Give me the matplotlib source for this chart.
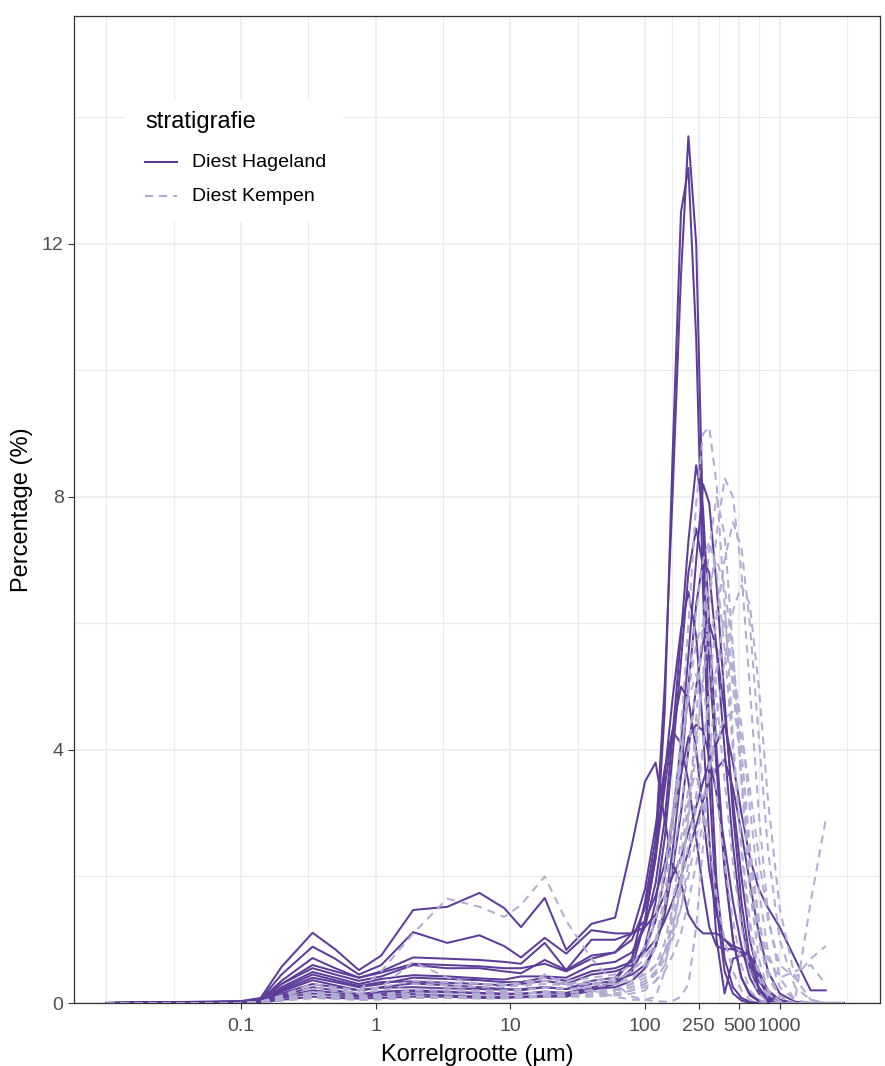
import numpy as np
import matplotlib
matplotlib.use('Agg')
import matplotlib.pyplot as plt
from matplotlib.ticker import FixedLocator, NullFormatter
from matplotlib.patches import Rectangle

nan = np.nan

# grain size classes (µm)
size = [0.01, 0.1, 0.14, 0.2, 0.34, 0.5, 0.75, 1.1, 1.9, 3.4, 5.9, 9, 12, 18, 26, 40, 60, 80,
        100, 120, 140, 160, 185, 210, 240, 270, 300, 340, 390, 450, 520, 600, 700, 820,
        1000, 1300, 1700, 2200, 3000]

# Diest Hageland samples (%)
hageland = [
    [0, 0.03, 0.08, 0.57, 1.11, 0.85, 0.52, 0.75, 1.47, 1.52, 1.74, 1.5, 1.2, 1.66, 0.84, 1.25, 1.35, 2.5,
     3.5, 3.8, 2.9, 2.2, 1.9, 1.4, 1.2, 1.1, 1.1, 1.1, 1.0, 0.85, 0.8, 0.6, 0.35, 0.15, 0.03, 0, 0, 0, 0],
    [0, 0.02, 0.06, 0.45, 0.89, 0.7, 0.45, 0.6, 1.12, 0.95, 1.07, 0.9, 0.72, 1.03, 0.78, 1.15, 1.1, 1.1,
     1.2, 1.4, 1.7, 2.0, 2.3, 2.7, 3.1, 3.5, 3.8, 4.1, 4.4, 3.8, 3.0, 2.3, 1.8, 1.5, 1.2, 0.7, 0.2, 0.2, nan],
    [0, 0.02, 0.05, 0.35, 0.71, 0.55, 0.4, 0.5, 0.72, 0.7, 0.68, 0.65, 0.62, 0.95, 0.52, 1.0, 1.0, 1.1,
     1.3, 1.7, 2.2, 2.9, 3.6, 4.2, 4.4, 4.3, 3.9, 3.3, 2.5, 1.6, 0.9, 0.4, 0.15, 0.03, 0, 0, 0, 0, 0],
    [0, 0.02, 0.05, 0.3, 0.55, 0.45, 0.35, 0.42, 0.6, 0.55, 0.55, 0.5, 0.47, 0.68, 0.52, 0.75, 0.8, 1.0,
     1.5, 2.4, 3.6, 4.8, 5.9, 6.5, 5.8, 4.3, 2.6, 1.0, 0.15, 0.7, 0.75, 0.75, 0.5, 0.1, 0, 0, 0, 0, 0],
    [0, 0.02, 0.04, 0.25, 0.49, 0.4, 0.3, 0.38, 0.44, 0.42, 0.39, 0.37, 0.42, 0.42, 0.4, 0.6, 0.65, 0.8,
     1.2, 1.9, 2.9, 4.2, 5.8, 7.3, 8.5, 7.8, 6.0, 4.0, 2.2, 1.0, 0.4, 0.15, 0.04, 0, 0, 0, 0, 0, 0],
    [0, 0.01, 0.03, 0.22, 0.45, 0.36, 0.27, 0.33, 0.34, 0.32, 0.3, 0.28, 0.3, 0.35, 0.3, 0.45, 0.5, 0.6,
     0.85, 1.3, 2.0, 2.9, 4.1, 5.5, 7.0, 8.2, 7.9, 6.6, 4.8, 3.0, 1.6, 0.7, 0.25, 0.06, 0, 0, 0, 0, 0],
    [0, 0.01, 0.03, 0.18, 0.36, 0.28, 0.2, 0.25, 0.31, 0.28, 0.25, 0.22, 0.2, 0.25, 0.22, 0.35, 0.4, 0.7,
     1.6, 2.6, 5.0, 8.0, 11.5, 13.7, 12.0, 7.5, 4.2, 1.9, 0.7, 0.25, 0.08, 0.02, 0, 0, 0, 0, 0, 0, 0],
    [0, 0.01, 0.02, 0.12, 0.25, 0.2, 0.14, 0.18, 0.2, 0.18, 0.16, 0.15, 0.14, 0.18, 0.16, 0.25, 0.3, 0.55,
     1.3, 2.3, 4.6, 8.6, 12.5, 13.2, 10.5, 6.5, 3.5, 1.5, 0.5, 0.15, 0.04, 0, 0, 0, 0, 0, 0, 0, 0],
    [0, 0, 0.01, 0.08, 0.15, 0.12, 0.1, 0.12, 0.14, 0.12, 0.1, 0.1, 0.1, 0.12, 0.12, 0.2, 0.3, 0.5,
     0.9, 1.6, 2.6, 3.9, 5.4, 6.8, 7.5, 6.9, 5.4, 3.7, 2.1, 1.0, 0.4, 0.12, 0.03, 0, 0, 0, 0, 0, 0],
    [0, 0, 0.01, 0.05, 0.1, 0.08, 0.07, 0.08, 0.1, 0.1, 0.08, 0.08, 0.09, 0.1, 0.1, 0.2, 0.35, 0.7,
     1.3, 2.3, 3.4, 4.3, 5.0, 4.8, 4.0, 3.0, 2.1, 1.4, 1.0, 0.9, 0.85, 0.7, 0.4, 0.1, 0, 0, 0, 0, 0],
    [0, 0.01, 0.03, 0.15, 0.3, 0.25, 0.2, 0.24, 0.25, 0.23, 0.22, 0.21, 0.22, 0.25, 0.22, 0.3, 0.35, 0.45,
     0.6, 0.9, 1.4, 2.1, 3.0, 4.0, 5.0, 5.7, 6.0, 5.6, 4.6, 3.2, 2.0, 1.0, 0.4, 0.1, 0, 0, 0, 0, 0],
    [0, 0.01, 0.02, 0.1, 0.2, 0.16, 0.12, 0.15, 0.18, 0.17, 0.15, 0.14, 0.15, 0.17, 0.15, 0.22, 0.25, 0.35,
     0.55, 0.9, 1.5, 2.4, 3.6, 5.0, 6.3, 7.0, 6.8, 5.6, 4.0, 2.5, 1.3, 0.55, 0.2, 0.05, 0, 0, 0, 0, 0],
    [0, 0.02, 0.05, 0.3, 0.6, 0.5, 0.4, 0.48, 0.62, 0.6, 0.58, 0.55, 0.55, 0.62, 0.5, 0.7, 0.8, 1.1,
     1.8, 2.8, 3.7, 4.3, 4.1, 3.5, 2.6, 1.8, 1.2, 0.9, 0.85, 0.85, 0.8, 0.75, 0.5, 0.2, 0.05, 0, 0, 0, 0],
    [0, 0.01, 0.03, 0.2, 0.4, 0.33, 0.25, 0.3, 0.4, 0.38, 0.36, 0.33, 0.33, 0.4, 0.35, 0.5, 0.55, 0.65,
     0.8, 1.0, 1.3, 1.6, 2.0, 2.4, 2.8, 3.2, 3.5, 3.7, 3.85, 3.4, 2.7, 1.9, 1.1, 0.5, 0.15, 0.02, 0, 0, 0],
]

# Diest Kempen samples (%)
kempen = [
    [0, 0, 0.01, 0.05, 0.1, 0.12, 0.2, 0.5, 1.1, 1.65, 1.52, 1.36, 1.55, 2.0, 1.3, 0.7, 0.3, 0.1,
     0.05, 0.03, 0.02, 0.03, 0.1, 0.3, 1.2, 2.5, 3.8, 5.2, 6.2, 5.2, 3.6, 2.1, 1.0, 0.4, 0.1, 0, 0, 0, 0],
    [0, 0, 0.01, 0.05, 0.1, 0.08, 0.06, 0.07, 0.1, 0.1, 0.1, 0.1, 0.1, 0.12, 0.12, 0.15, 0.2, 0.3,
     0.5, 0.9, 1.6, 2.7, 4.3, 6.0, 7.9, 9.0, 9.1, 8.2, 6.3, 4.2, 2.4, 1.1, 0.4, 0.1, 0, 0, 0, 0, 0],
    [0, 0, 0.01, 0.04, 0.08, 0.07, 0.05, 0.06, 0.08, 0.08, 0.08, 0.08, 0.08, 0.1, 0.1, 0.12, 0.15, 0.2,
     0.3, 0.5, 0.8, 1.3, 2.0, 2.9, 4.0, 5.2, 6.3, 7.4, 8.3, 8.0, 6.8, 5.0, 3.0, 1.4, 0.4, 0.05, 0, 0, 0],
    [0, 0, 0.01, 0.05, 0.12, 0.1, 0.08, 0.1, 0.15, 0.15, 0.14, 0.13, 0.14, 0.17, 0.16, 0.2, 0.2, 0.25,
     0.3, 0.45, 0.7, 1.0, 1.5, 2.2, 3.1, 4.0, 5.0, 6.1, 7.0, 7.6, 7.2, 6.0, 4.2, 2.4, 1.0, 0.25, 0.05, 0, 0],
    [0, 0, 0.02, 0.08, 0.18, 0.15, 0.12, 0.14, 0.2, 0.22, 0.2, 0.2, 0.22, 0.45, 0.3, 0.3, 0.3, 0.4,
     0.6, 1.0, 1.7, 2.6, 3.8, 5.0, 6.2, 7.0, 7.3, 6.8, 5.6, 4.0, 2.5, 1.3, 0.5, 0.15, 0, 0, 0, 0, 0],
    [0, 0, 0.02, 0.1, 0.25, 0.2, 0.15, 0.25, 0.65, 0.4, 0.3, 0.28, 0.3, 0.35, 0.3, 0.35, 0.4, 0.5,
     0.7, 1.0, 1.5, 2.2, 3.1, 4.0, 5.0, 5.9, 6.6, 7.0, 6.6, 5.5, 4.0, 2.5, 1.3, 0.5, 0.1, 0, 0, 0, 0],
    [0, 0, 0.01, 0.04, 0.08, 0.07, 0.06, 0.07, 0.1, 0.1, 0.1, 0.1, 0.1, 0.12, 0.12, 0.15, 0.15, 0.2,
     0.25, 0.35, 0.5, 0.75, 1.1, 1.6, 2.2, 2.9, 3.6, 4.5, 5.4, 6.2, 6.6, 6.3, 5.0, 3.2, 1.5, 0.4, 0.05, 0, 0],
    [0, 0, 0.02, 0.1, 0.3, 0.22, 0.15, 0.2, 0.3, 0.28, 0.25, 0.25, 0.28, 0.3, 0.28, 0.3, 0.35, 0.5,
     0.8, 1.3, 2.0, 2.9, 3.9, 4.9, 5.7, 6.0, 5.7, 4.8, 3.5, 2.2, 1.2, 0.5, 0.15, 0, 0, 0, 0, 0, 0],
    [0, 0, 0.01, 0.05, 0.1, 0.08, 0.07, 0.08, 0.1, 0.1, 0.1, 0.1, 0.1, 0.12, 0.12, 0.15, 0.2, 0.25,
     0.35, 0.5, 0.8, 1.2, 1.8, 2.5, 3.3, 4.1, 4.8, 5.3, 5.6, 5.3, 4.4, 3.1, 1.8, 0.8, 0.25, 0.05, 1.6, 2.9, nan],
    [0, 0, 0.02, 0.12, 0.3, 0.25, 0.2, 0.25, 0.35, 0.33, 0.3, 0.3, 0.32, 0.4, 0.35, 0.4, 0.45, 0.6,
     0.9, 1.4, 2.1, 3.0, 4.0, 4.8, 5.2, 5.0, 4.3, 3.3, 2.2, 1.3, 0.6, 0.2, 0.05, 0, 0, 0, 0, 0, 0],
    [0, 0, 0.01, 0.06, 0.15, 0.12, 0.1, 0.12, 0.2, 0.2, 0.18, 0.18, 0.2, 0.25, 0.22, 0.25, 0.3, 0.35,
     0.45, 0.6, 0.8, 1.1, 1.5, 2.0, 2.6, 3.2, 3.7, 4.2, 4.5, 4.6, 4.2, 3.4, 2.3, 1.3, 0.6, 0.4, 0.7, 0.9, nan],
    [0, 0, 0.01, 0.05, 0.12, 0.1, 0.08, 0.1, 0.15, 0.15, 0.14, 0.14, 0.15, 0.18, 0.16, 0.2, 0.22, 0.3,
     0.4, 0.6, 0.95, 1.5, 2.3, 3.2, 4.2, 5.1, 5.8, 6.2, 6.0, 5.0, 3.6, 2.3, 1.3, 0.7, 0.4, 0.5, 0.6, 0.3, nan],
    [0, 0, 0.01, 0.04, 0.08, 0.07, 0.05, 0.06, 0.08, 0.08, 0.07, 0.07, 0.08, 0.1, 0.1, 0.1, 0.12, 0.15,
     0.2, 0.35, 0.6, 1.1, 1.9, 3.0, 4.5, 6.0, 7.2, 8.0, 7.4, 5.6, 3.5, 1.8, 0.7, 0.2, 0.03, 0, 0, 0, 0],
    [0, 0, 0.01, 0.05, 0.15, 0.12, 0.1, 0.12, 0.2, 0.2, 0.18, 0.18, 0.2, 0.45, 0.3, 0.2, 0.1, 0.05,
     0.05, 0.1, 0.5, 1.5, 2.6, 3.4, 3.6, 3.2, 2.5, 1.7, 1.0, 0.5, 0.2, 0.05, 0, 0, 0, 0, 0, 0, 0],
]

groups = ['Diest Hageland', 'Diest Kempen']
xticks = [0.1, 1, 10, 100, 250, 500, 1000]
xticklabels = ['0.1', '1', '10', '100', '250', '500', '1000']
yticks = [0, 4, 8, 12]

dark = '#5E3C99'
light = '#B2ABD2'
dash = (4, 3)

plt.rcParams['font.family'] = ['Liberation Sans', 'DejaVu Sans']

fig = plt.figure(figsize=(8.85, 10.66), dpi=100)
ax = fig.add_axes([74/885, 63/1066, 806/885, 987/1066])

for s in hageland:
    ax.plot(size, s, color=dark, lw=1.45)
for s in kempen:
    ax.plot(size, s, color=light, lw=1.45, dashes=dash)

ax.set_xscale('log')
ax.set_xlim(10**-2.24, 10**3.745)
ax.set_ylim(0, 15.6)

ax.xaxis.set_major_locator(FixedLocator(xticks))
ax.set_xticklabels(xticklabels)
ax.xaxis.set_minor_locator(FixedLocator([10**v for v in [-2, -1.5, -0.5, 0.5, 1.5, 2.199, 2.549, 2.849, 3.5]]))
ax.xaxis.set_minor_formatter(NullFormatter())
ax.set_yticks(yticks)
ax.yaxis.set_minor_locator(FixedLocator([2, 6, 10, 14]))

ax.grid(which='major', color='#EBEBEB', lw=1.1)
ax.grid(which='minor', color='#EBEBEB', lw=0.8)
ax.set_axisbelow(True)
ax.tick_params(which='minor', length=0)
ax.tick_params(which='major', length=4.5, width=0.8, color='#333333',
               labelsize=14, labelcolor='#4D4D4D')
ax.tick_params(axis='x', pad=6)
ax.tick_params(axis='y', pad=3)
for sp in ax.spines.values():
    sp.set_color('#333333')
    sp.set_linewidth(0.9)

ax.set_xlabel('Korrelgrootte (µm)', fontsize=17, labelpad=7)
ax.set_ylabel('Percentage (%)', fontsize=17, labelpad=6)

# legend drawn by hand, white box inside the panel
ax.add_patch(Rectangle((0.0633, 0.791), 0.271, 0.124, transform=ax.transAxes,
                       facecolor='white', edgecolor='none', zorder=5))
ax.text(0.0881, 0.893, 'stratigrafie', transform=ax.transAxes, fontsize=17,
        va='center', ha='left', zorder=6)
for i, (g, c) in enumerate(zip(groups, [dark, light])):
    yy = 0.852 - i * 0.0345
    ln = ax.plot([0.0881, 0.1278], [yy, yy], transform=ax.transAxes, color=c, lw=1.45,
                 zorder=6, clip_on=False)[0]
    if i == 1:
        ln.set_dashes(dash)
    ax.text(0.1464, yy, g, transform=ax.transAxes, fontsize=14, va='center', ha='left', zorder=6)

fig.savefig('out.png', dpi=100)
